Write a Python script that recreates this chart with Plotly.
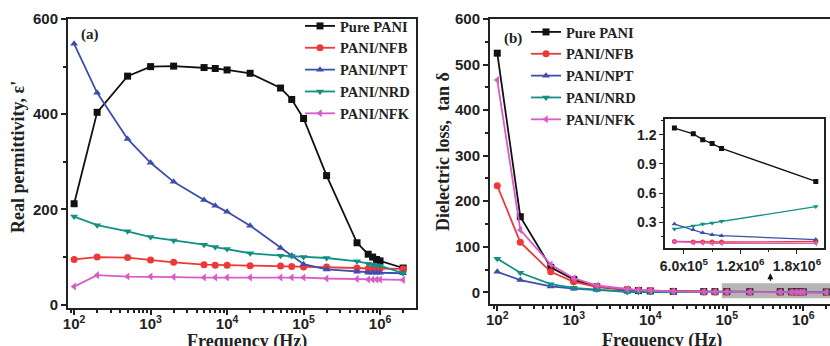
import plotly.graph_objects as go

# ---------------- data ----------------
freq = [100, 200, 500, 1e3, 2e3, 5e3, 7e3, 1e4, 2e4, 5e4, 7e4, 1e5, 2e5,
        5e5, 7e5, 8e5, 9e5, 1e6, 2e6]
names = ["Pure PANI", "PANI/NFB", "PANI/NPT", "PANI/NRD", "PANI/NFK"]

# (a) real permittivity
eps_pure = [212, 404, 480, 500, 501, 498, 496, 493, 486, 455, 431, 391, 271,
            130, 106, 100, 95, 92, 77]
eps_nfb = [95, 100, 99, 94, 89, 84, 83, 83, 82, 81, 80, 79, 79, 77, 76, 76, 76, 76, 75]
eps_npt = [548, 445, 348, 298, 258, 220, 208, 195, 166, 119, 103, 85, 74, 69, 67, 67,
           67, 67, 66]
eps_nrd = [185, 167, 154, 142, 135, 126, 121, 117, 108, 103, 102, 100, 98, 91, 86, 84,
           83, 82, 66]
eps_nfk = [38, 62, 59, 59, 58, 57, 57, 57, 57, 57, 57, 57, 55, 54, 53, 53, 53, 53, 52]

# (b) dielectric loss tan delta
tan_pure = [525, 166, 55, 28, 12, 5, 4, 3, 2.0, 1.6, 1.5, 1.45, 1.35,
            1.27, 1.21, 1.15, 1.11, 1.06, 0.72]
tan_nfb = [234, 110, 45, 23, 12, 6, 4.5, 3.5, 2, 1, 0.8, 0.6, 0.3,
           0.10, 0.095, 0.095, 0.095, 0.095, 0.10]
tan_npt = [45, 27, 13, 8, 5, 3, 2.5, 2, 1.2, 0.8, 0.6, 0.5, 0.4,
           0.28, 0.22, 0.19, 0.17, 0.16, 0.12]
tan_nrd = [74, 43, 18, 10, 6, 0.5, 0.5, 0.5, 0.8, 0.6, 0.5, 0.4, 0.3,
           0.23, 0.26, 0.28, 0.29, 0.31, 0.46]
tan_nfk = [466, 137, 61, 31, 15, 7, 5, 4, 2, 1.2, 1, 0.8, 0.4,
           0.10, 0.085, 0.085, 0.08, 0.08, 0.08]

inset_start = 13  # inset shows 5e5 .. 2e6

xtick_vals = [1e2, 1e3, 1e4, 1e5, 1e6]
xtick_text = ["10<sup>2</sup>", "10<sup>3</sup>", "10<sup>4</sup>", "10<sup>5</sup>", "10<sup>6</sup>"]
ytick_a = [0, 200, 400, 600]
ytick_b = [0, 100, 200, 300, 400, 500, 600]
inset_xvals = [6e5, 1.2e6, 1.8e6]
inset_xtext = ["6.0x10<sup>5</sup>", "1.2x10<sup>6</sup>", "1.8x10<sup>6</sup>"]
inset_yvals = [0.3, 0.6, 0.9, 1.2]

xtitle = "Frequency (Hz)"
ytitle_a = "Real permittivity, ε'"
ytitle_b = "Dielectric loss,  tan δ"

# ---------------- styles ----------------
colors = ["#111111", "#ee3838", "#3c4eae", "#138f86", "#d85cc8"]
symbols = ["square", "circle", "triangle-up", "triangle-down", "triangle-left"]

fig = go.Figure()

series_a = [eps_pure, eps_nfb, eps_npt, eps_nrd, eps_nfk]
series_b = [tan_pure, tan_nfb, tan_npt, tan_nrd, tan_nfk]

for i in range(5):
    fig.add_trace(go.Scatter(
        x=freq, y=series_a[i], name=names[i], mode="lines+markers",
        line=dict(color=colors[i], width=1.8),
        marker=dict(symbol=symbols[i], size=7, color=colors[i]),
        xaxis="x", yaxis="y", legend="legend"))
for i in range(5):
    fig.add_trace(go.Scatter(
        x=freq, y=series_b[i], name=names[i], mode="lines+markers",
        line=dict(color=colors[i], width=1.8),
        marker=dict(symbol=symbols[i], size=7, color=colors[i]),
        xaxis="x2", yaxis="y2", legend="legend2"))
for i in range(5):
    fig.add_trace(go.Scatter(
        x=freq[inset_start:], y=series_b[i][inset_start:], name=names[i],
        mode="lines+markers", showlegend=False,
        line=dict(color=colors[i], width=1.3),
        marker=dict(symbol=symbols[i], size=5, color=colors[i]),
        xaxis="x3", yaxis="y3"))

W, H = 830, 346
tickfont = dict(family="Liberation Sans", size=15, color="#222", weight="bold")
titlefont = dict(family="Liberation Serif", size=18, color="#222", weight="bold")
axcommon = dict(showline=True, linecolor="#222", linewidth=2, ticks="outside",
                tickcolor="#222", tickwidth=1.5, ticklen=5, showgrid=False,
                zeroline=False, tickfont=tickfont, automargin=False)
insetfont = dict(family="Liberation Sans", size=14, color="#222", weight="bold")
legfont = dict(family="Liberation Serif", size=14.5, color="#222", weight="bold")

fig.update_layout(
    width=W, height=H, margin=dict(l=0, r=0, t=0, b=0, autoexpand=False),
    paper_bgcolor="white", plot_bgcolor="white",
    xaxis=dict(type="log", domain=[68 / W, 416 / W], range=[1.92, 6.47],
               tickvals=xtick_vals, ticktext=xtick_text, mirror=True,
               ticklabelstandoff=-4,
               minor=dict(ticks="outside", ticklen=3, tickcolor="#222", dtick="D1"),
               anchor="y", **axcommon),
    yaxis=dict(domain=[1 - 308 / H, 1 - 19 / H], range=[-7, 600],
               tickvals=ytick_a, mirror=True,
               minor=dict(ticks="outside", ticklen=3, tickcolor="#222", dtick=100),
               anchor="x", **axcommon),
    xaxis2=dict(type="log", domain=[490 / W, 1.0], range=[1.905, 6.349],
                tickvals=xtick_vals, ticktext=xtick_text, mirror=True,
                ticklabelstandoff=-4,
                minor=dict(ticks="outside", ticklen=3, tickcolor="#222", dtick="D1"),
                anchor="y2", **axcommon),
    yaxis2=dict(domain=[1 - 304 / H, 1 - 19 / H], range=[-25.6, 600],
                tickvals=ytick_b, mirror=False,
                minor=dict(ticks="outside", ticklen=3, tickcolor="#222", dtick=50),
                anchor="x2", **axcommon),
    xaxis3=dict(domain=[665 / W, 824 / W], range=[4.0e5, 2.087e6],
                tickvals=inset_xvals, ticktext=inset_xtext, mirror=True,
                showline=True, linecolor="#222", linewidth=1.5, ticks="outside",
                ticklen=4, tickcolor="#222", showgrid=False, zeroline=False,
                minor=dict(ticks="outside", ticklen=2, tickcolor="#222", dtick=3e5),
                tickfont=insetfont, anchor="y3", automargin=False),
    yaxis3=dict(domain=[1 - 248.3 / H, 1 - 119.3 / H], range=[0.03, 1.36],
                tickvals=inset_yvals, mirror=True,
                showline=True, linecolor="#222", linewidth=1.5, ticks="outside",
                ticklen=4, tickcolor="#222", showgrid=False, zeroline=False,
                minor=dict(ticks="outside", ticklen=2, tickcolor="#222", dtick=0.15),
                tickfont=insetfont, anchor="x3", automargin=False),
    legend=dict(x=300 / W, y=1 - 10 / H, xanchor="left", yanchor="top",
                bgcolor="rgba(0,0,0,0)", font=legfont, tracegroupgap=0),
    legend2=dict(x=526 / W, y=1 - 16 / H, xanchor="left", yanchor="top",
                 bgcolor="rgba(0,0,0,0)", font=legfont, tracegroupgap=0),
)

# axis titles
def title_ann(text, x, y, angle=0):
    fig.add_annotation(xref="paper", yref="paper", x=x / W, y=1 - y / H, text=text,
                       showarrow=False, xanchor="center", yanchor="middle",
                       textangle=angle, font=titlefont)

title_ann(xtitle, 247, 341)
title_ann(xtitle, 662, 340)
title_ann(ytitle_a, 18, 157, -90)
title_ann(ytitle_b, 443, 152, -90)

# shaded zoom region and arrow in (b)
fig.add_shape(type="rect", xref="x2", yref="y2", x0=8.6e4, x1=3e6, y0=-13, y1=20,
              fillcolor="rgba(150,150,150,0.7)", line=dict(width=0), layer="below")
fig.add_annotation(xref="x2", yref="y2", axref="x2", ayref="y2",
                   x=5.57, y=42, ax=5.57, ay=22, text="", showarrow=True,
                   arrowhead=2, arrowsize=0.8, arrowwidth=1.5, arrowcolor="#111")

# panel labels
fig.add_annotation(xref="paper", yref="paper", x=79 / W, y=1 - 34 / H, text="(a)",
                   showarrow=False, xanchor="left", yanchor="middle",
                   font=dict(family="Liberation Serif", size=15, color="#222", weight="bold"))
fig.add_annotation(xref="paper", yref="paper", x=502 / W, y=1 - 38 / H, text="(b)",
                   showarrow=False, xanchor="left", yanchor="middle",
                   font=dict(family="Liberation Serif", size=15, color="#222", weight="bold"))

fig.write_html("out.html")
